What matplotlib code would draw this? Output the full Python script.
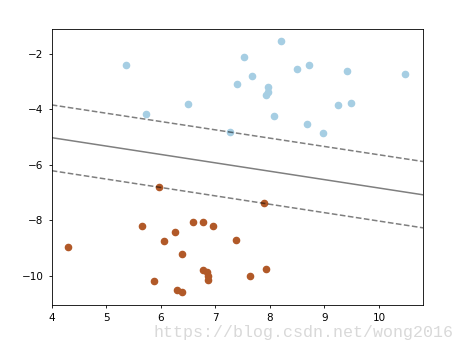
import numpy as np
import matplotlib.pyplot as plt

# class 0 (light blue) points
x0 = [5.37, 5.73, 6.50, 7.27, 7.39, 7.52, 7.67, 7.97, 7.97, 7.92,
      8.07, 8.21, 8.49, 8.71, 8.68, 8.97, 9.24, 9.41, 9.49, 10.48]
y0 = [-2.43, -4.18, -3.80, -4.83, -3.10, -2.11, -2.80, -3.21, -3.37, -3.50,
      -4.24, -1.53, -2.54, -2.41, -4.52, -4.86, -3.87, -2.62, -3.78, -2.74]

# class 1 (brown) points
x1 = [5.96, 7.89, 5.65, 4.30, 6.05, 6.26, 6.59, 6.78, 6.95, 7.38,
      6.39, 6.78, 6.84, 6.87, 6.87, 5.87, 6.29, 6.38, 7.64, 7.92]
y1 = [-6.81, -7.39, -8.20, -8.98, -8.75, -8.43, -8.06, -8.08, -8.21, -8.70,
      -9.24, -9.79, -9.88, -10.01, -10.15, -10.18, -10.51, -10.60, -10.01, -9.75]

# decision boundary and margins (values at the x limits)
line_x = [4.0, 10.81]
boundary_y = [-5.03, -7.09]
upper_margin_y = [-3.85, -5.89]
lower_margin_y = [-6.22, -8.28]

cmap = plt.cm.Paired
fig = plt.figure(figsize=(4.66, 3.52), dpi=100)
ax = fig.add_axes([0.111, 0.1335, 0.797, 0.7845])

ax.scatter(x0, y0, s=20, color=cmap(0.0), zorder=2)
ax.scatter(x1, y1, s=20, color=cmap(1.0), zorder=2)

ax.plot(line_x, boundary_y, color="k", alpha=0.5, lw=1.1, ls="-")
ax.plot(line_x, upper_margin_y, color="k", alpha=0.5, lw=1.1, ls="--")
ax.plot(line_x, lower_margin_y, color="k", alpha=0.5, lw=1.1, ls="--")

ax.set_xlim(4.0, 10.81)
ax.set_ylim(-11.06, -1.11)
ax.set_xticks([4, 5, 6, 7, 8, 9, 10])
ax.set_yticks([-2, -4, -6, -8, -10])
ax.tick_params(labelsize=7.5, length=2.5, width=0.6)
for sp in ax.spines.values():
    sp.set_linewidth(0.6)

fig.text(0.974, 0.054, "https://blog.csdn.net/wong2016", ha="right", va="center",
         fontsize=12, family="Liberation Mono", color="#d9d9d9")

fig.savefig("out.png", dpi=100)
